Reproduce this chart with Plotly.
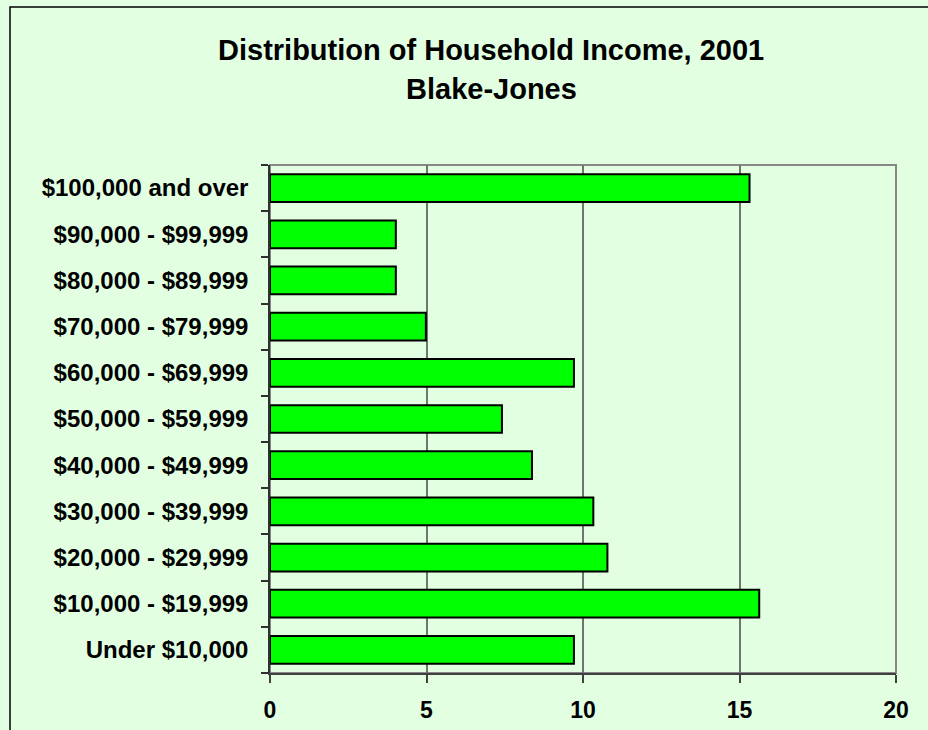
import plotly.graph_objects as go

categories = [
    "Under $10,000",
    "$10,000 - $19,999",
    "$20,000 - $29,999",
    "$30,000 - $39,999",
    "$40,000 - $49,999",
    "$50,000 - $59,999",
    "$60,000 - $69,999",
    "$70,000 - $79,999",
    "$80,000 - $89,999",
    "$90,000 - $99,999",
    "$100,000 and over",
]
values = [9.71, 15.63, 10.78, 10.33, 8.37, 7.41, 9.71, 4.98, 4.02, 4.02, 15.32]
x_ticks = [0, 5, 10, 15, 20]

title_line1 = "Distribution of Household Income, 2001"
title_line2 = "Blake-Jones"

FONT = "Liberation Sans, Arial, sans-serif"
BG = "#E2FFE2"

fig = go.Figure()
fig.add_trace(go.Bar(
    x=values, y=categories, orientation="h",
    marker=dict(color="#00FF00", line=dict(color="#000000", width=2)),
    width=0.6,
    hoverinfo="x+y",
))

L, R, T, B = 270, 32, 165, 57
W, H = 928, 730
pw, ph = W - L - R, H - T - B

def px_to_paper_x(px):
    return (px - L) / pw

def px_to_paper_y(py):
    return (H - B - py) / ph

fig.update_layout(
    width=W, height=H,
    margin=dict(l=L, r=R, t=T, b=B, pad=0, autoexpand=False),
    paper_bgcolor=BG, plot_bgcolor=BG,
    font=dict(family=FONT, size=23, color="#000000"),
    showlegend=False,
    bargap=0.4,
    xaxis=dict(
        range=[0, 20], tickvals=x_ticks, ticktext=[str(v) for v in x_ticks],
        showgrid=True, gridcolor="#6E766E", gridwidth=1.5,
        showline=True, linecolor="#404040", linewidth=1.5,
        ticks="outside", ticklen=8, tickcolor="#404040", tickwidth=1.5,
        tickfont=dict(family=FONT, size=23, color="#000000", weight="bold"),
        ticklabelstandoff=8, automargin=False,
        zeroline=False, fixedrange=True,
    ),
    yaxis=dict(
        categoryorder="array", categoryarray=categories,
        showgrid=False,
        showline=True, linecolor="#303030", linewidth=1.5,
        ticks="outside", ticklen=7, tickcolor="#303030", tickwidth=1.5,
        tickson="boundaries",
        tickfont=dict(family=FONT, size=24, color="#000000", weight="bold"),
        ticklabelstandoff=15, automargin=False,
        zeroline=False, fixedrange=True,
    ),
    shapes=[
        # plot area border (top/right gray)
        dict(type="rect", xref="paper", yref="paper", x0=0, x1=1, y0=0, y1=1,
             line=dict(color="#888888", width=2), fillcolor="rgba(0,0,0,0)", layer="below"),
        # outer chart frame
        dict(type="rect", xref="paper", yref="paper",
             x0=px_to_paper_x(10), x1=px_to_paper_x(975),
             y0=px_to_paper_y(745), y1=px_to_paper_y(7),
             line=dict(color="#000000", width=1.5), fillcolor="rgba(0,0,0,0)"),
    ],
    annotations=[
        dict(text="<b>%s</b>" % title_line1, xref="paper", yref="paper",
             x=px_to_paper_x(491), y=px_to_paper_y(50), xanchor="center", yanchor="middle",
             showarrow=False, font=dict(family=FONT, size=29, color="#000000")),
        dict(text="<b>%s</b>" % title_line2, xref="paper", yref="paper",
             x=px_to_paper_x(491), y=px_to_paper_y(89), xanchor="center", yanchor="middle",
             showarrow=False, font=dict(family=FONT, size=29, color="#000000")),
    ],
)

fig.write_html(
    "out.html",
    config={"displayModeBar": False},
    post_script="document.body.style.margin='0';document.body.style.background='%s';"
                "document.documentElement.style.overflow='hidden';" % BG,
)
